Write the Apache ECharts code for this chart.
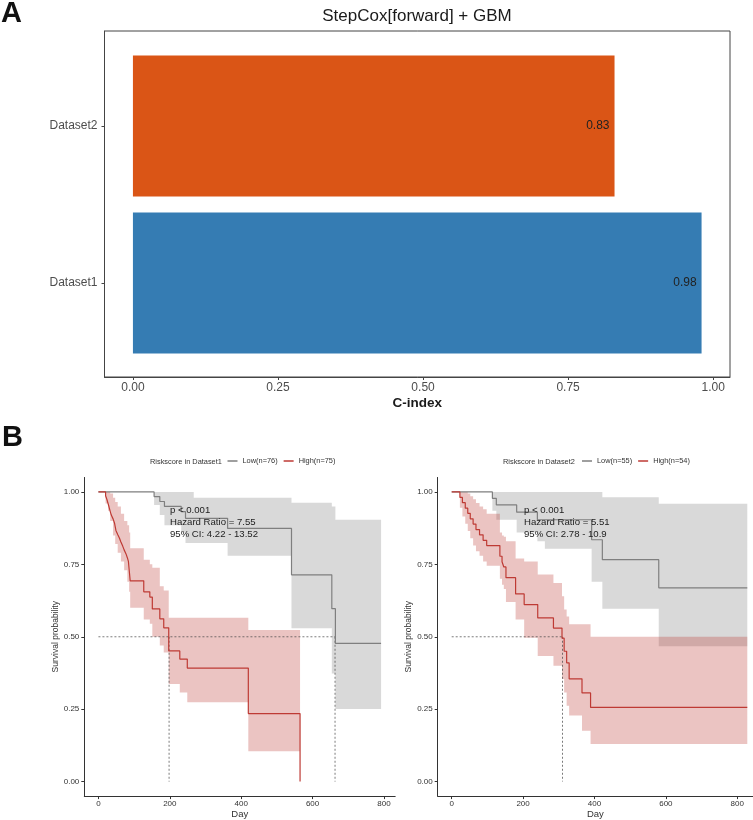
<!DOCTYPE html>
<html>
<head>
<meta charset="utf-8">
<title>StepCox[forward] + GBM</title>
<script src="https://cdn.jsdelivr.net/npm/echarts@6/dist/echarts.min.js"></script>
<style>
  html, body { margin: 0; padding: 0; background: #fff; }
  #main { width: 753px; height: 820px; }
</style>
</head>
<body>
<div id="main"></div>
<script>
// ---- panel A: C-index bars ----
var barCats = ['Dataset1', 'Dataset2'];
var barVals = [0.98, 0.83];
var barColors = ['#357CB3', '#DA5516'];
var cTicks = [0, 0.25, 0.5, 0.75, 1];

// ---- panel B: Kaplan-Meier curves, [day, survival] ----
var dayTicks = [0, 200, 400, 600, 800];
var survTicks = [0, 0.25, 0.5, 0.75, 1];

var d1Low = [[0, 1], [156, 0.984], [172, 0.967], [185, 0.95], [232, 0.932], [244, 0.909],
    [362, 0.874], [541, 0.714], [654, 0.597], [664, 0.477], [792, 0.477]];
// [day, lower, upper]
var d1LowCI = [[0, 1, 1], [156, 0.955, 1], [172, 0.92, 1], [185, 0.885, 1], [232, 0.86, 1],
    [244, 0.824, 1], [267, 0.824, 0.98], [362, 0.78, 0.98], [541, 0.529, 0.963],
    [654, 0.373, 0.95], [664, 0.251, 0.904], [792, 0.251, 0.904]];
var d1High = [[0, 1], [20, 0.987], [24, 0.973], [27, 0.96], [30, 0.947], [33, 0.933], [36, 0.92],
    [41, 0.907], [45, 0.893], [47, 0.88], [49, 0.867], [54, 0.853], [59, 0.84], [63, 0.827],
    [68, 0.813], [72, 0.8], [77, 0.787], [81, 0.773], [84, 0.76], [86, 0.733], [89, 0.693],
    [127, 0.655], [144, 0.637], [151, 0.596], [172, 0.562], [183, 0.531], [197, 0.451],
    [228, 0.423], [249, 0.392], [420, 0.235], [565, 0]];
var d1HighCI = [[0, 1, 1], [20, 0.96, 1], [27, 0.935, 1], [33, 0.9, 0.995], [41, 0.85, 0.98],
    [47, 0.82, 0.965], [54, 0.79, 0.95], [63, 0.76, 0.925], [72, 0.73, 0.9], [81, 0.69, 0.885],
    [86, 0.655, 0.86], [89, 0.6, 0.806], [127, 0.56, 0.766], [144, 0.545, 0.75], [151, 0.5, 0.738],
    [172, 0.47, 0.674], [183, 0.446, 0.66], [197, 0.337, 0.566], [228, 0.308, 0.566],
    [249, 0.274, 0.566], [420, 0.105, 0.523], [565, 0.105, 0.523]];

var d2Low = [[0, 1], [114, 0.978], [125, 0.955], [182, 0.93], [240, 0.904], [392, 0.835],
    [422, 0.766], [580, 0.669], [828, 0.669]];
var d2LowCI = [[0, 1, 1], [114, 0.935, 1], [125, 0.904, 1], [182, 0.86, 1], [240, 0.83, 1],
    [261, 0.804, 1], [392, 0.69, 1], [422, 0.597, 0.982], [580, 0.467, 0.959], [828, 0.467, 0.959]];
var d2High = [[0, 1], [23, 0.981], [30, 0.963], [38, 0.944], [45, 0.926], [52, 0.907], [60, 0.889],
    [68, 0.87], [78, 0.852], [88, 0.833], [98, 0.815], [135, 0.778], [141, 0.759], [146, 0.741],
    [152, 0.704], [179, 0.648], [203, 0.611], [241, 0.565], [285, 0.53], [309, 0.495],
    [315, 0.45], [322, 0.41], [329, 0.355], [365, 0.306], [389, 0.256], [828, 0.256]];
var d2HighCI = [[0, 1, 1], [23, 0.945, 1], [30, 0.915, 1], [38, 0.89, 1], [45, 0.865, 0.995],
    [52, 0.84, 0.985], [60, 0.815, 0.975], [68, 0.795, 0.962], [78, 0.78, 0.95], [88, 0.76, 0.94],
    [98, 0.745, 0.925], [135, 0.70, 0.86], [141, 0.68, 0.85], [146, 0.665, 0.845],
    [152, 0.62, 0.83], [179, 0.56, 0.77], [203, 0.497, 0.76], [241, 0.434, 0.715],
    [285, 0.40, 0.686], [309, 0.354, 0.64], [315, 0.308, 0.594], [322, 0.262, 0.57],
    [329, 0.228, 0.543], [365, 0.176, 0.543], [389, 0.13, 0.5], [828, 0.13, 0.5]];

var d1Median = [198, 663];
var d2Median = [310];
var d1Stats = ['p < 0.001', 'Hazard Ratio = 7.55', '95% CI: 4.22 - 13.52'];
var d2Stats = ['p < 0.001', 'Hazard Ratio = 5.51', '95% CI: 2.78 - 10.9'];

var FONT = "'Liberation Sans', Arial, Helvetica, sans-serif";
var GREY = '#7F7F7F', RED = '#BE3A34';
var GREY_FILL = 'rgba(128,128,128,0.3)', RED_FILL = 'rgba(190,58,52,0.3)';

var chart = echarts.init(document.getElementById('main'));

function kmLine(name, data, color, idx) {
    return {
        name: name, type: 'line', step: 'end', data: data,
        xAxisIndex: idx, yAxisIndex: idx, symbol: 'none', showSymbol: false,
        lineStyle: { color: color, width: 1.2 }, itemStyle: { color: color },
        z: 3, silent: true
    };
}

// confidence ribbon as one stepped polygon through the axis scales
function kmBand(band, fill, idx) {
    return {
        type: 'custom', xAxisIndex: idx, yAxisIndex: idx, data: band,
        encode: { x: 0, y: [1, 2] }, silent: true, z: 1,
        renderItem: function (params, api) {
            if (params.dataIndex !== 0) return null;
            var up = [], lo = [];
            for (var i = 0; i < band.length - 1; i++) {
                var a = band[i], b = band[i + 1];
                up.push(api.coord([a[0], a[2]]), api.coord([b[0], a[2]]));
                lo.push(api.coord([a[0], a[1]]), api.coord([b[0], a[1]]));
            }
            return {
                type: 'polygon', silent: true,
                shape: { points: up.concat(lo.reverse()) },
                style: { fill: fill }
            };
        }
    };
}

function dotted(data, idx) {
    return {
        type: 'line', data: data, xAxisIndex: idx, yAxisIndex: idx, symbol: 'none',
        lineStyle: { color: '#444', width: 0.7, type: [2, 2] }, z: 2, silent: true
    };
}

function medianSeries(meds, idx) {
    var out = [dotted([[0, 0.5], [Math.max.apply(null, meds), 0.5]], idx)];
    meds.forEach(function (m) { out.push(dotted([[m, 0.5], [m, 0]], idx)); });
    return out;
}

function kmX(gi, min, max) {
    return {
        type: 'value', gridIndex: gi, min: min, max: max,
        name: 'Day', nameLocation: 'middle', nameGap: 11,
        nameTextStyle: { fontSize: 9.5, color: '#333', fontFamily: FONT },
        axisLine: { show: true, onZero: false, lineStyle: { color: '#333', width: 1 } },
        axisTick: { show: true, length: 3, customValues: dayTicks, lineStyle: { color: '#333' } },
        axisLabel: { customValues: dayTicks, fontSize: 8, color: '#333', margin: 4, fontFamily: FONT },
        splitLine: { show: false }
    };
}

function kmY(gi) {
    return {
        type: 'value', gridIndex: gi, min: -0.05, max: 1.05,
        name: 'Survival probability', nameLocation: 'middle', nameRotate: 90, nameGap: 19,
        nameTextStyle: { fontSize: 8.5, color: '#333', fontFamily: FONT },
        axisLine: { show: true, onZero: false, lineStyle: { color: '#333', width: 1 } },
        axisTick: { show: true, length: 3, customValues: survTicks, lineStyle: { color: '#333' } },
        axisLabel: {
            customValues: survTicks, fontSize: 8, color: '#333', margin: 5, fontFamily: FONT,
            formatter: function (v) { return v.toFixed(2); }
        },
        splitLine: { show: false }
    };
}

function txt(s, x, y, size, opts) {
    opts = opts || {};
    return {
        type: 'text', x: x, y: y, z: 10, silent: true,
        style: {
            text: s, fontSize: size, fontFamily: FONT, fontWeight: opts.bold ? 'bold' : 'normal',
            fill: opts.color || '#222',
            align: opts.align || 'left', textAlign: opts.align || 'left',
            verticalAlign: 'middle', textVerticalAlign: 'middle'
        }
    };
}

var graphics = [
    txt('A', 1, 14, 29, { bold: true, color: '#111' }),
    txt('B', 2, 438, 29, { bold: true, color: '#111' }),
    txt('StepCox[forward] + GBM', 417, 16, 17, { align: 'center', color: '#1a1a1a' }),
    txt('Riskscore in Dataset1', 150, 462, 7.4, { color: '#333' }),
    txt('Riskscore in Dataset2', 503, 462, 7.4, { color: '#333' })
];
d1Stats.forEach(function (s, i) { graphics.push(txt(s, 170, 510 + i * 12, 9.6)); });
d2Stats.forEach(function (s, i) { graphics.push(txt(s, 524, 510 + i * 12, 9.6)); });

var legendBase = {
    orient: 'horizontal', icon: 'rect', itemWidth: 10, itemHeight: 1.5, itemGap: 6, padding: 0,
    selectedMode: false, textStyle: { fontSize: 7.4, color: '#333', fontFamily: FONT }
};

var option = {
    animation: false,
    backgroundColor: '#fff',
    textStyle: { fontFamily: FONT },
    graphic: graphics,
    legend: [
        Object.assign({ data: ['Low(n=76)', 'High(n=75)'], left: 227.5, top: 457.5 }, legendBase),
        Object.assign({ data: ['Low(n=55)', 'High(n=54)'], left: 582, top: 457.5 }, legendBase)
    ],
    grid: [
        { left: 104.5, top: 47.5, width: 625.5, height: 314 },
        { left: 104.5, top: 31, width: 625.5, height: 346, show: true, borderColor: '#444', borderWidth: 1 },
        { left: 84.3, top: 477.45, width: 310.9, height: 320.1 },
        { left: 437.7, top: 477.45, width: 315.3, height: 320.1 }
    ],
    xAxis: [
        { type: 'value', gridIndex: 0, min: -0.049, max: 1.029, show: false },
        {
            type: 'value', gridIndex: 1, min: -0.049, max: 1.029,
            name: 'C-index', nameLocation: 'middle', nameGap: 19,
            nameTextStyle: { fontSize: 13.5, fontWeight: 'bold', color: '#1a1a1a', fontFamily: FONT },
            axisLine: { show: true, onZero: false, lineStyle: { color: '#444', width: 1 } },
            axisTick: { show: true, length: 3, customValues: cTicks, lineStyle: { color: '#444' } },
            axisLabel: {
                customValues: cTicks, fontSize: 12, color: '#4d4d4d', margin: 5, fontFamily: FONT,
                formatter: function (v) { return v.toFixed(2); }
            },
            splitLine: { show: false }
        },
        kmX(2, -39.6, 831.6),
        kmX(3, -39.2, 844)
    ],
    yAxis: [
        {
            type: 'category', gridIndex: 0, data: barCats,
            axisLine: { show: false, onZero: false },
            axisTick: { show: true, alignWithLabel: true, length: 3, lineStyle: { color: '#444' } },
            axisLabel: { fontSize: 12, color: '#4d4d4d', margin: 7, fontFamily: FONT }
        },
        {
            type: 'value', gridIndex: 1, min: 0, max: 1,
            axisLine: { show: true, onZero: false, lineStyle: { color: '#444', width: 1 } },
            axisTick: { show: false }, axisLabel: { show: false }, splitLine: { show: false }
        },
        kmY(2),
        kmY(3)
    ],
    series: [
        {
            type: 'bar', xAxisIndex: 0, yAxisIndex: 0, barWidth: 141, silent: true,
            data: barVals.map(function (v, i) { return { value: v, itemStyle: { color: barColors[i] } }; }),
            label: {
                show: true, position: 'insideRight', distance: 5, color: '#222', fontSize: 12,
                fontFamily: FONT, formatter: function (p) { return p.value.toFixed(2); }
            }
        },
        kmBand(d1LowCI, GREY_FILL, 2),
        kmBand(d1HighCI, RED_FILL, 2),
        kmLine('Low(n=76)', d1Low, GREY, 2),
        kmLine('High(n=75)', d1High, RED, 2),
        kmBand(d2LowCI, GREY_FILL, 3),
        kmBand(d2HighCI, RED_FILL, 3),
        kmLine('Low(n=55)', d2Low, GREY, 3),
        kmLine('High(n=54)', d2High, RED, 3)
    ].concat(medianSeries(d1Median, 2), medianSeries(d2Median, 3))
};

chart.setOption(option);
</script>
</body>
</html>
